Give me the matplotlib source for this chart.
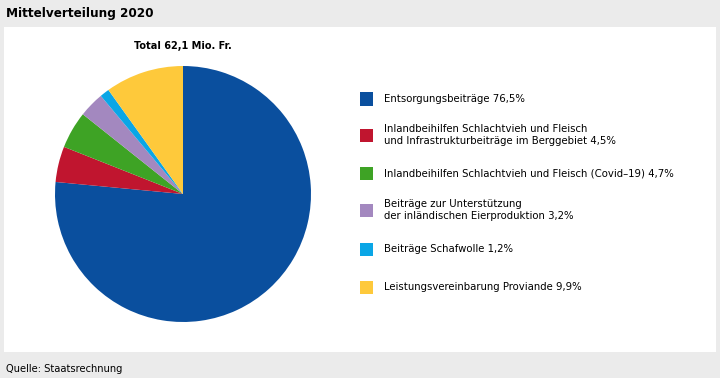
import matplotlib.pyplot as plt
from matplotlib.patches import Rectangle

labels = ["Entsorgungsbeiträge 76,5%",
          "Inlandbeihilfen Schlachtvieh und Fleisch\nund Infrastrukturbeiträge im Berggebiet 4,5%",
          "Inlandbeihilfen Schlachtvieh und Fleisch (Covid–19) 4,7%",
          "Beiträge zur Unterstützung\nder inländischen Eierproduktion 3,2%",
          "Beiträge Schafwolle 1,2%",
          "Leistungsvereinbarung Proviande 9,9%"]
shares = [76.5, 4.5, 4.7, 3.2, 1.2, 9.9]
colors = ["#0a4f9e", "#c0152f", "#3ea325", "#a388bf", "#0aa6e6", "#fec93b"]

plt.rcParams['font.family'] = ['DejaVu Sans']
plt.rcParams['font.stretch'] = 'condensed'

W, H = 720, 378
fig = plt.figure(figsize=(W / 100, H / 100), dpi=100)
fig.patch.set_facecolor("#ebebeb")

# white panel
fig.add_artist(Rectangle((4 / W, (H - 352) / H), 712 / W, 325 / H,
                         transform=fig.transFigure, facecolor="white",
                         edgecolor="none", zorder=0))

fig.text(6 / W, 1 - 13 / H, "Mittelverteilung 2020", fontsize=9.6,
         fontweight="bold", va="center", ha="left")
fig.text(6 / W, 1 - 369 / H, "Quelle: Staatsrechnung", fontsize=7.9,
         va="center", ha="left")
fig.text(183 / W, 1 - 46 / H, "Total 62,1 Mio. Fr.", fontsize=7.8,
         fontweight="bold", va="center", ha="center")

r = 128
ax = fig.add_axes([(183 - r) / W, (H - 194 - r) / H, 2 * r / W, 2 * r / H])
ax.pie(shares, colors=colors, startangle=90, counterclock=False, radius=1)
ax.set_xlim(-1, 1)
ax.set_ylim(-1, 1)
ax.set_aspect("auto")
ax.axis("off")

ys = [99, 135, 174, 210, 249, 287]
for lab, c, y in zip(labels, colors, ys):
    fig.add_artist(Rectangle((360 / W, 1 - (y + 6.5) / H), 13 / W, 13 / H,
                             transform=fig.transFigure, facecolor=c,
                             edgecolor="none"))
    fig.text(384 / W, 1 - y / H, lab, fontsize=8.1, va="center", ha="left",
             linespacing=1.35)

fig.savefig("out.png", dpi=100, facecolor=fig.get_facecolor())
